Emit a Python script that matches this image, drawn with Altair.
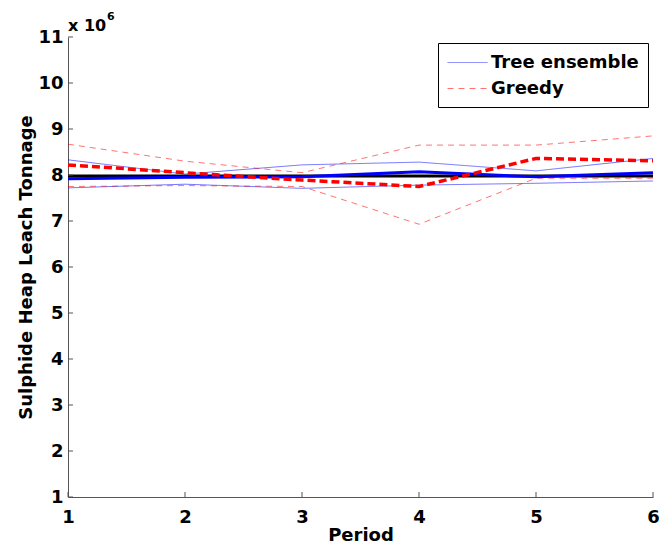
import altair as alt
import pandas as pd

periods = [1, 2, 3, 4, 5, 6]
tree_upper = [8.33e6, 8.02e6, 8.22e6, 8.28e6, 8.09e6, 8.36e6]
tree_lower = [7.72e6, 7.80e6, 7.71e6, 7.78e6, 7.82e6, 7.87e6]
tree_mean = [7.92e6, 7.95e6, 7.96e6, 8.07e6, 7.96e6, 8.05e6]
greedy_upper = [8.67e6, 8.30e6, 8.05e6, 8.65e6, 8.65e6, 8.85e6]
greedy_lower = [7.75e6, 7.77e6, 7.75e6, 6.93e6, 7.93e6, 7.93e6]
greedy_mean = [8.22e6, 8.05e6, 7.89e6, 7.75e6, 8.36e6, 8.31e6]
target = [7.98e6, 7.98e6, 7.98e6, 7.98e6, 7.98e6, 7.98e6]
series_names = ["Tree ensemble", "Greedy"]
y_ticks = [1e6, 2e6, 3e6, 4e6, 5e6, 6e6, 7e6, 8e6, 9e6, 10e6, 11e6]
x_ticks = [1, 2, 3, 4, 5, 6]

W, H = 585, 460
FONT = "DejaVu Sans"

rows = []
for name, bound, vals in [
    ("Tree ensemble", "upper", tree_upper),
    ("Tree ensemble", "lower", tree_lower),
    ("Greedy", "upper", greedy_upper),
    ("Greedy", "lower", greedy_lower),
]:
    for p, v in zip(periods, vals):
        rows.append({"period": p, "value": v, "method": name, "bound": bound})
thin_df = pd.DataFrame(rows)
mean_df = pd.DataFrame({"period": periods, "tree": tree_mean, "greedy": greedy_mean, "target": target})

xscale = alt.Scale(domain=[1, 6], nice=False)
yscale = alt.Scale(domain=[1e6, 11e6], nice=False, zero=False)

xax = alt.Axis(values=x_ticks, title="Period", format="d", ticks=False, labelPadding=11,
               titlePadding=0, grid=False, labelFlush=False,
               labelFont=FONT, labelFontSize=18, labelFontWeight="bold", labelColor="black",
               titleFont=FONT, titleFontSize=18, titleFontWeight="bold", titleColor="black")
yax = alt.Axis(values=y_ticks, title="Sulphide Heap Leach Tonnage", labelExpr="datum.value/1e6",
               ticks=False, labelPadding=5, titlePadding=2, grid=False, labelFlush=False,
               labelOverlap=False,
               labelFont=FONT, labelFontSize=18, labelFontWeight="bold", labelColor="black",
               titleFont=FONT, titleFontSize=18, titleFontWeight="bold", titleColor="black")

X = alt.X("period:Q", scale=xscale, axis=xax)
Y = alt.Y("value:Q", scale=yscale, axis=yax)

thin = alt.Chart(thin_df).mark_line(strokeWidth=1, opacity=0.55).encode(
    x=X, y=Y,
    color=alt.Color("method:N", scale=alt.Scale(domain=series_names, range=["#0000ff", "#ff0000"]),
                    legend=alt.Legend(title=None)),
    strokeDash=alt.StrokeDash("method:N", scale=alt.Scale(domain=series_names, range=[[1, 0], [6, 5]]),
                              legend=alt.Legend(title=None)),
    detail="bound:N",
)

black = alt.Chart(mean_df).mark_line(color="black", strokeWidth=3).encode(
    x=alt.X("period:Q", scale=xscale), y=alt.Y("target:Q", scale=yscale))
blue = alt.Chart(mean_df).mark_line(color="#0000ff", strokeWidth=3).encode(
    x=alt.X("period:Q", scale=xscale), y=alt.Y("tree:Q", scale=yscale))
red = alt.Chart(mean_df).mark_line(color="#ff0000", strokeWidth=3.5, strokeDash=[8, 4]).encode(
    x=alt.X("period:Q", scale=xscale), y=alt.Y("greedy:Q", scale=yscale))

ytick_df = pd.DataFrame({"v": y_ticks})
xtick_df = pd.DataFrame({"p": x_ticks})
yticks = alt.Chart(ytick_df).mark_rule(color="#555555", strokeWidth=1).encode(
    y=alt.Y("v:Q", scale=yscale), x=alt.value(0), x2=alt.value(5))
xticks = alt.Chart(xtick_df).mark_rule(color="#555555", strokeWidth=1).encode(
    x=alt.X("p:Q", scale=xscale), y=alt.value(H), y2=alt.value(H - 5))

mult = alt.Chart(pd.DataFrame({"t": ["x 10"]})).mark_text(
    align="left", baseline="alphabetic", font=FONT, fontSize=16, fontWeight="bold", color="black"
).encode(text="t:N", x=alt.value(0), y=alt.value(-6))
expo = alt.Chart(pd.DataFrame({"t": ["6"]})).mark_text(
    align="left", baseline="alphabetic", font=FONT, fontSize=11, fontWeight="bold", color="black"
).encode(text="t:N", x=alt.value(39), y=alt.value(-17))

chart = alt.layer(thin, black, blue, red, yticks, xticks, mult, expo).properties(
    width=W, height=H,
    autosize=alt.AutoSizeParams(type="none"),
    padding={"left": 68, "top": 37, "right": 6, "bottom": 53},
).configure_view(stroke=None).configure_axis(
    domainColor="#555555", domainWidth=1,
).configure_legend(
    orient="none", legendX=370, legendY=6,
    strokeColor="black", fillColor="white", padding=9, rowPadding=6,
    labelFont=FONT, labelFontSize=18, labelFontWeight="bold", labelColor="black",
    symbolType="M-1,0H3", symbolSize=400, symbolStrokeWidth=1, labelOffset=23,
    cornerRadius=0,
)

chart.save("out.html", embed_options={"renderer": "svg", "actions": False})
